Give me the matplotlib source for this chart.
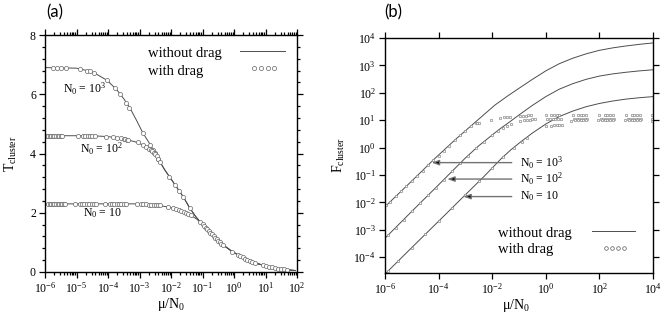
import numpy as np
import matplotlib
matplotlib.use("Agg")
import matplotlib.pyplot as plt
from matplotlib.ticker import LogLocator, MultipleLocator, NullLocator

plt.rcParams["font.family"] = "Liberation Serif"
plt.rcParams["mathtext.fontset"] = "custom"
plt.rcParams["mathtext.rm"] = "Liberation Serif"
plt.rcParams["mathtext.it"] = "Liberation Serif:italic"
plt.rcParams["mathtext.default"] = "regular"

# ---------------- panel (a): T_cluster vs mu/N0 (x given as log10) ----------------
# lines, without drag
a_lx_1e3 = [-6.0, -5.0, -4.67, -4.4, -4.03, -3.72, -3.5, -3.3, -3.1, -2.89, -2.64, -2.4,
            -2.2, -2.05, -1.87, -1.6, -1.4, -1.2, -1.08, -1.0, -0.87, -0.66, -0.39, -0.07,
            0.19, 0.61, 1.0, 1.25, 1.57, 1.95]
a_T_1e3 = [6.9, 6.88, 6.8, 6.7, 6.47, 6.15, 5.85, 5.53, 5.13, 4.69, 4.27, 3.8,
           3.45, 3.22, 2.94, 2.52, 2.15, 1.85, 1.70, 1.62, 1.45, 1.2, 0.95, 0.70,
           0.54, 0.32, 0.21, 0.145, 0.085, 0.05]
a_lx_1e2 = [-6.0, -4.5, -4.0, -3.72, -3.41, -3.09, -2.88, -2.67, -2.5, -2.35, -2.2, -2.05,
            -1.87, -1.6, -1.4, -1.2, -1.08, -1.0, -0.87, -0.66, -0.39, -0.07, 0.19, 0.61,
            1.0, 1.25, 1.57, 1.95]
a_T_1e2 = [4.6, 4.6, 4.57, 4.53, 4.47, 4.38, 4.28, 4.14, 3.98, 3.72, 3.45, 3.22,
           2.94, 2.52, 2.15, 1.85, 1.70, 1.62, 1.45, 1.2, 0.95, 0.70, 0.54, 0.32,
           0.21, 0.145, 0.085, 0.05]
a_lx_10 = [-6.0, -3.0, -2.46, -2.03, -1.71, -1.4, -1.2, -1.08, -1.0, -0.87, -0.66, -0.39,
           -0.07, 0.19, 0.61, 1.0, 1.25, 1.57, 1.95]
a_T_10 = [2.3, 2.3, 2.26, 2.18, 2.09, 1.93, 1.8, 1.69, 1.62, 1.45, 1.2, 0.95,
          0.70, 0.54, 0.32, 0.21, 0.145, 0.085, 0.05]

# markers, with drag
m_lx_1e3 = [-5.75, -5.62, -5.49, -5.33, -4.89, -4.67, -4.57, -4.44, -4.03, -3.78, -3.62,
            -3.43, -3.33, -2.89, -2.67, -2.57, -2.51, -2.41, -2.06, -1.87, -1.75, -1.62, -1.4]
m_T_1e3 = [6.89, 6.89, 6.89, 6.88, 6.85, 6.8, 6.77, 6.72, 6.47, 6.22, 6.0,
           5.72, 5.55, 4.69, 4.3, 4.12, 4.01, 3.8, 3.22, 2.94, 2.75, 2.54, 2.15]
m_lx_1e2 = [-5.95, -5.9, -5.85, -5.8, -5.75, -5.7, -5.65, -5.6, -5.55, -5.5, -5.45,
            -4.95, -4.8, -4.72, -4.65, -4.58, -4.5, -4.42, -4.05, -3.85, -3.72, -3.6,
            -3.5, -3.45, -3.4, -3.35, -3.05, -2.9, -2.8, -2.7, -2.65, -2.6, -2.55,
            -2.5, -2.45, -2.4, -2.35]
m_T_1e2 = [4.6, 4.6, 4.6, 4.6, 4.6, 4.6, 4.6, 4.6, 4.6, 4.6, 4.6,
           4.6, 4.6, 4.6, 4.6, 4.59, 4.59, 4.59, 4.57, 4.55, 4.53, 4.51,
           4.49, 4.48, 4.46, 4.45, 4.38, 4.3, 4.22, 4.16, 4.12, 4.07, 4.03,
           3.98, 3.9, 3.8, 3.7]
m_lx_10 = [-5.9, -5.85, -5.8, -5.75, -5.7, -5.65, -5.6, -5.55, -5.5, -5.45, -5.4, -5.35,
           -5.05, -4.9, -4.82, -4.75, -4.68, -4.6, -4.52, -4.45, -4.38,
           -4.1, -3.95, -3.87, -3.8, -3.72, -3.65, -3.58, -3.5, -3.42,
           -3.08, -2.95, -2.88, -2.8, -2.7, -2.62, -2.55, -2.48, -2.42, -2.36,
           -2.1, -1.95, -1.85, -1.75, -1.68, -1.6, -1.52, -1.45, -1.38,
           -1.08, -1.0, -0.95, -0.9, -0.85, -0.8, -0.75, -0.7, -0.65, -0.6, -0.55,
           -0.5, -0.45, -0.4, -0.35, -0.06, 0.13, 0.2, 0.27, 0.35, 0.42, 0.5, 0.58,
           0.67, 0.92, 1.0, 1.1, 1.2, 1.3, 1.4, 1.5, 1.6, 1.68]
m_T_10 = [2.3, 2.3, 2.3, 2.3, 2.3, 2.3, 2.3, 2.3, 2.3, 2.3, 2.3, 2.3,
          2.3, 2.3, 2.3, 2.3, 2.3, 2.3, 2.3, 2.3, 2.3,
          2.3, 2.3, 2.3, 2.3, 2.3, 2.3, 2.3, 2.3, 2.3,
          2.29, 2.29, 2.28, 2.28, 2.27, 2.27, 2.27, 2.26, 2.26, 2.26,
          2.2, 2.16, 2.14, 2.1, 2.07, 2.03, 2.0, 1.96, 1.92,
          1.70, 1.62, 1.56, 1.5, 1.44, 1.38, 1.32, 1.27, 1.21, 1.16, 1.1,
          1.05, 1.0, 0.96, 0.92, 0.69, 0.57, 0.53, 0.49, 0.45, 0.41, 0.37, 0.34,
          0.30, 0.22, 0.2, 0.18, 0.16, 0.135, 0.115, 0.1, 0.085, 0.075]

# ---------------- panel (b): F_cluster vs mu/N0 (both as log10) ----------------
b_lx_1e3 = [-6.0, -5.0, -4.13, -3.39, -2.64, -1.9, -1.4, -0.96, -0.5, 0.0, 0.5, 1.0,
            1.5, 2.0, 2.5, 3.0, 3.5, 4.0]
b_lF_1e3 = [-2.16, -1.22, -0.39, 0.28, 0.92, 1.55, 1.9, 2.19, 2.49, 2.8, 3.06, 3.26,
            3.42, 3.55, 3.64, 3.71, 3.77, 3.82]
b_lx_1e2 = [-6.0, -5.0, -4.0, -3.01, -2.52, -2.1, -1.77, -1.4, -1.0, -0.5, 0.0, 0.5,
            1.0, 1.5, 2.0, 2.5, 3.0, 3.5, 4.0]
b_lF_1e2 = [-3.31, -2.33, -1.36, -0.39, 0.05, 0.38, 0.64, 0.9, 1.19, 1.54, 1.86, 2.13,
            2.33, 2.49, 2.61, 2.69, 2.75, 2.8, 2.84]
b_lx_10 = [-6.0, -5.0, -4.0, -3.07, -2.3, -1.65, -1.3, -0.96, -0.5, 0.0, 0.5, 1.0,
           1.5, 2.0, 2.5, 3.0, 3.5, 4.0]
b_lF_10 = [-4.62, -3.65, -2.69, -1.79, -1.05, -0.39, -0.08, 0.19, 0.53, 0.86, 1.13, 1.33,
           1.49, 1.61, 1.7, 1.77, 1.82, 1.86]

bm_lx_1e3 = [-5.95, -5.8, -5.6, -5.4, -5.2, -5.0, -4.8, -4.6, -4.4, -4.2, -4.0, -3.8,
             -3.6, -3.4, -3.2, -3.0, -2.8, -2.62, -2.55, -2.48, -2.05, -1.7, -1.55,
             -1.45, -1.35, -0.95, -0.85, -0.75, -0.65, -0.55, 0.0, 0.2, 0.3, 0.4, 0.5,
             1.0, 1.2, 1.3, 1.4, 1.5, 2.0, 2.2, 2.3, 2.4, 2.5, 3.0, 3.2, 3.3, 3.4, 3.5,
             3.97]
bm_lF_1e3 = [-2.11, -1.97, -1.78, -1.6, -1.41, -1.22, -1.03, -0.84, -0.65, -0.46, -0.29,
             -0.11, 0.07, 0.27, 0.45, 0.62, 0.8, 0.88, 0.9, 0.91, 1.02, 1.08, 1.1,
             1.11, 1.12, 1.16, 1.17, 1.17, 1.18, 1.18, 1.19, 1.19, 1.19, 1.2, 1.2,
             1.19, 1.2, 1.2, 1.19, 1.2, 1.19, 1.2, 1.2, 1.2, 1.19, 1.2, 1.19, 1.2, 1.2, 1.2,
             1.2]
bm_lx_1e2 = [-5.9, -5.6, -5.3, -5.0, -4.7, -4.4, -4.1, -3.8, -3.5, -3.2, -2.9, -2.6,
             -2.3, -2.0, -1.8, -1.6, -1.45, -1.3, -0.95, -0.8, -0.7, -0.6, -0.5, -0.4,
             0.05, 0.15, 0.25, 0.35, 0.45, 0.55, 1.05, 1.15, 1.25, 1.35, 1.45, 1.55,
             2.05, 2.15, 2.25, 2.35, 2.45, 2.55, 3.05, 3.15, 3.25, 3.35, 3.45, 3.55, 3.97]
bm_lF_1e2 = [-3.21, -2.92, -2.63, -2.33, -2.04, -1.75, -1.46, -1.17, -0.87, -0.58,
             -0.29, -0.03, 0.22, 0.45, 0.6, 0.72, 0.8, 0.85, 0.98, 1.0, 1.01, 1.02,
             1.03, 1.03, 1.04, 1.04, 1.04, 1.05, 1.04, 1.05, 1.03, 1.04, 1.04, 1.04,
             1.03, 1.04, 1.03, 1.04, 1.04, 1.03, 1.04, 1.04, 1.03, 1.04, 1.03, 1.04,
             1.04, 1.03, 1.06]
bm_lx_10 = [-5.9, -5.5, -5.0, -4.5, -4.0, -3.5, -3.0, -2.5, -2.0, -1.6, -1.2, -0.9, -0.7,
            0.0, 0.2, 0.3, 0.4, 0.5, 0.6, 0.95, 1.1, 1.2, 1.3, 1.4, 1.5, 1.95, 2.1, 2.2,
            2.3, 2.4, 2.5, 2.95, 3.1, 3.2, 3.3, 3.4, 3.5, 3.95]
bm_lF_10 = [-4.52, -4.13, -3.65, -3.16, -2.68, -2.2, -1.72, -1.23, -0.74, -0.36, -0.03,
            0.2, 0.35, 0.78, 0.8, 0.81, 0.82, 0.83, 0.84, 0.98, 0.99, 1.0, 1.0, 1.0, 1.01,
            1.0, 1.01, 1.0, 1.01, 1.01, 1.0, 1.01, 1.0, 1.01, 1.0, 1.01, 1.01, 0.98]

line_kw = dict(color="0.3", lw=0.7)
tick_kw = dict(direction="out", top=True, right=True, labelsize=8.5, width=0.9, pad=2.5)


def setup_axes(ax):
    for s in ax.spines.values():
        s.set_linewidth(1.0)
    ax.tick_params(which="major", length=4, **tick_kw)
    ax.tick_params(which="minor", length=2.2, **tick_kw)


fig = plt.figure(figsize=(6.65, 3.13), dpi=100)

# ---- (a)
ax = fig.add_axes([45 / 665, 1 - 272 / 313, 252 / 665, 237 / 313])
for lx, T in [(a_lx_1e3, a_T_1e3), (a_lx_1e2, a_T_1e2), (a_lx_10, a_T_10)]:
    ax.plot(10 ** np.array(lx), T, **line_kw)
for lx, T in [(m_lx_1e3, m_T_1e3), (m_lx_1e2, m_T_1e2), (m_lx_10, m_T_10)]:
    ax.plot(10 ** np.array(lx), T, ls="none", marker="o", ms=3.0,
            mfc="white", mec="0.4", mew=0.5)
ax.set_xscale("log")
ax.set_xlim(1e-6, 1e2)
ax.set_ylim(0, 8)
ax.xaxis.set_major_locator(LogLocator(base=10, numticks=20))
ax.xaxis.set_minor_locator(LogLocator(base=10, subs=np.arange(2, 10), numticks=20))
ax.yaxis.set_major_locator(MultipleLocator(2))
ax.yaxis.set_minor_locator(MultipleLocator(0.4))
setup_axes(ax)
ax.set_xlabel(r"$\mu/N_0$", fontsize=10)
ax.set_ylabel(r"$T_{cluster}$", fontsize=10)
ax.xaxis.set_label_coords(0.5, -0.1)
ax.yaxis.set_label_coords(-0.105, 0.5)

ax.text(0.07, 0.775, r"$N_0$ = $10^3$", transform=ax.transAxes, fontsize=8.5, va="center")
ax.text(0.14, 0.52, r"$N_0$ = $10^2$", transform=ax.transAxes, fontsize=8.5, va="center")
ax.text(0.15, 0.248, r"$N_0$ = 10", transform=ax.transAxes, fontsize=8.5, va="center")

ax.text(0.409, 0.92, "without drag", transform=ax.transAxes, fontsize=10.5, va="center")
ax.text(0.409, 0.848, "with drag", transform=ax.transAxes, fontsize=10.5, va="center")
ax.plot([0.774, 0.952], [0.932, 0.932], transform=ax.transAxes, **line_kw)
ax.plot(np.linspace(0.83, 0.91, 4), [0.859] * 4, transform=ax.transAxes, ls="none",
        marker="o", ms=3.0, mfc="white", mec="0.4", mew=0.5)

# ---- (b)
bx = fig.add_axes([385 / 665, 1 - 273 / 313, 268 / 665, 235 / 313])
for lx, lF in [(b_lx_1e3, b_lF_1e3), (b_lx_1e2, b_lF_1e2), (b_lx_10, b_lF_10)]:
    bx.plot(10 ** np.array(lx), 10 ** np.array(lF), **line_kw)
for lx, lF in [(bm_lx_1e3, bm_lF_1e3), (bm_lx_1e2, bm_lF_1e2), (bm_lx_10, bm_lF_10)]:
    bx.plot(10 ** np.array(lx), 10 ** np.array(lF), ls="none", marker="o", ms=1.8,
            mfc="white", mec="0.45", mew=0.4)
bx.set_xscale("log")
bx.set_yscale("log")
bx.set_xlim(1e-6, 1e4)
bx.set_ylim(10 ** -4.58, 1e4)
bx.xaxis.set_major_locator(LogLocator(base=100, numticks=20))
bx.xaxis.set_minor_locator(NullLocator())
bx.yaxis.set_major_locator(LogLocator(base=10, numticks=20))
bx.yaxis.set_minor_locator(NullLocator())
setup_axes(bx)
bx.set_xlabel(r"$\mu/N_0$", fontsize=10)
bx.set_ylabel(r"$F_{cluster}$", fontsize=10)
bx.xaxis.set_label_coords(0.49, -0.1)
bx.yaxis.set_label_coords(-0.14, 0.5)

arrow_kw = dict(arrowstyle="-|>,head_length=0.5,head_width=0.18", fc="k", ec="0.45",
                lw=1.0, shrinkA=4, shrinkB=0)
for label, tip, ly in [(r"$N_0$ = $10^3$", -4.26, -0.55),
                       (r"$N_0$ = $10^2$", -3.68, -1.15),
                       (r"$N_0$ = 10", -3.08, -1.79)]:
    bx.annotate(label, xy=(10 ** tip, 10 ** ly), xytext=(10 ** -0.96, 10 ** ly),
                fontsize=8.5, va="center", ha="left", arrowprops=arrow_kw)

bx.text(0.422, 0.166, "without drag", transform=bx.transAxes, fontsize=10.5, va="center")
bx.text(0.422, 0.098, "with drag", transform=bx.transAxes, fontsize=10.5, va="center")
bx.plot([0.771, 0.933], [0.18, 0.18], transform=bx.transAxes, **line_kw)
bx.plot(np.linspace(0.825, 0.893, 4), [0.105] * 4, transform=bx.transAxes, ls="none",
        marker="o", ms=2.6, mfc="white", mec="0.35", mew=0.5)

fig.text(55 / 665, 1 - 12 / 313, "(a)", fontsize=12, family="Lato", ha="center", va="center")
fig.text(393 / 665, 1 - 12 / 313, "(b)", fontsize=12, family="Lato", ha="center", va="center")

fig.savefig("out.png", dpi=100)
